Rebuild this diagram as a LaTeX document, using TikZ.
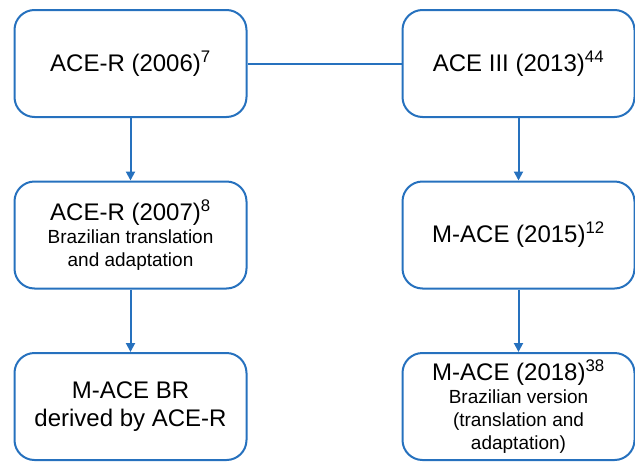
\documentclass[tikz,border=0pt]{standalone}
\usepackage{fontspec}
\setmainfont{Liberation Sans}
\usetikzlibrary{arrows.meta}
\definecolor{boxblue}{RGB}{38,113,190}
\newcommand{\bigf}{\fontsize{24}{28}\selectfont}
\newcommand{\smallf}{\fontsize{19}{23}\selectfont}
\tikzset{
  box/.style={draw=boxblue, line width=2pt, rounded corners=20pt, minimum width=232pt, minimum height=107pt, align=center, inner sep=0pt, text=black, font=\bigf},
  conn/.style={draw=boxblue, line width=2pt},
  arr/.style={conn, -{Triangle[length=9pt,width=9pt]}}
}
\begin{document}
\begin{tikzpicture}[x=1pt,y=1pt]
\useasboundingbox (0,0) rectangle (635,-461);
\node[box] (a1) at (130.5,-63.5) {ACE-R (2006)\textsuperscript{7}};
\node[box] (b1) at (518.5,-63.5) {ACE III (2013)\textsuperscript{44}};
\node[box] (a2) at (130.5,-235) {ACE-R (2007)\textsuperscript{8}\\[-5pt]\smallf Brazilian translation\\[-5pt]\smallf and adaptation};
\node[box] (b2) at (518.5,-235) {M-ACE (2015)\textsuperscript{12}};
\node[box] (a3) at (130.5,-406.5) {M-ACE BR\\derived by ACE-R};
\node[box] (b3) at (518.5,-406.5) {M-ACE (2018)\textsuperscript{38}\\[-5pt]\smallf Brazilian version\\[-5pt]\smallf (translation and\\[-5pt]\smallf adaptation)};
\draw[conn] (a1) -- (b1);
\draw[arr] (a1) -- (a2);
\draw[arr] (a2) -- (a3);
\draw[arr] (b1) -- (b2);
\draw[arr] (b2) -- (b3);
\end{tikzpicture}
\end{document}
